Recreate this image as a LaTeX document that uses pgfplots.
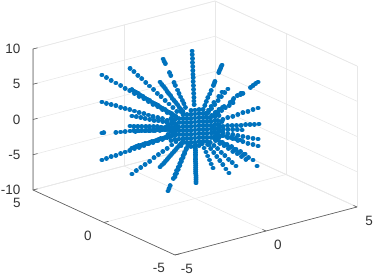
\documentclass[border=0pt]{standalone}
\usepackage{pgfplots}
\pgfplotsset{compat=1.18}
\usepackage{fontspec}
\setmainfont{Liberation Sans}
\definecolor{mblue}{RGB}{0,114,189}
\definecolor{gridc}{RGB}{232,232,232}
\definecolor{axc}{RGB}{90,90,90}
\pgfdeclareplotmark{rdot}{\pgfsetroundcap\pgfsetlinewidth{4.9pt}\pgfpathmoveto{\pgfqpoint{0pt}{0pt}}\pgfpathlineto{\pgfqpoint{0.01pt}{0pt}}\pgfusepathqstroke}
\begin{document}
\begin{tikzpicture}
\useasboundingbox (-195pt,-147pt) rectangle (179pt,128pt);
\begin{axis}[at={(0pt,0pt)},anchor=origin,
 x={(18.2pt,4.8pt)},y={(-14.2pt,6.5pt)},z={(0pt,7.05pt)},
 xmin=-5,xmax=5,ymin=-5,ymax=5,zmin=-10,zmax=10,
 xtick={-5,0,5},ytick={-5,0,5},ztick={-10,-5,0,5,10},
 clip=false,grid=major,
 grid style={gridc,line width=0.6pt},
 axis line style={gridc,line width=0.6pt},
 tick style={draw=none},
 tick label style={font=\fontsize{13.5}{14}\selectfont,text=black!80},
 /pgf/number format/assume math mode=true,
 xticklabel style={anchor=center,xshift=12pt,yshift=-13.5pt},
 yticklabel style={anchor=center,xshift=-16pt,yshift=-13pt},
 zticklabel style={anchor=east,xshift=-9pt,yshift=0pt},
]
% axis lines in front
\addplot3[axc,line width=0.6pt,forget plot] coordinates {(-5,5,10) (-5,5,-10) (-5,-5,-10) (5,-5,-10)};
\addplot3[axc,line width=0.6pt,forget plot] coordinates {(0,-5,-10) (0,-4.75,-10)};
\addplot3[axc,line width=0.6pt,forget plot] coordinates {(5,-5,-10) (5,-4.75,-10)};
\addplot3[axc,line width=0.6pt,forget plot] coordinates {(-5,-5,-10) (-4.75,-5,-10)};
\addplot3[axc,line width=0.6pt,forget plot] coordinates {(-5,0,-10) (-4.75,0,-10)};
\addplot3[axc,line width=0.6pt,forget plot] coordinates {(-5,5,-10) (-4.75,5,-10)};
\addplot3[axc,line width=0.6pt,forget plot] coordinates {(-5,5,-5) (-4.75,5,-5)};
\addplot3[axc,line width=0.6pt,forget plot] coordinates {(-5,5,0) (-4.75,5,0)};
\addplot3[axc,line width=0.6pt,forget plot] coordinates {(-5,5,5) (-4.75,5,5)};
\addplot3[axc,line width=0.6pt,forget plot] coordinates {(-5,5,10) (-4.75,5,10)};
\addplot3[only marks,mark=rdot,color=mblue] coordinates {
(-3.68,1.84,8.33)(-3.50,1.75,7.91)(-3.31,1.66,7.50)(-3.13,1.56,7.08)(-2.94,1.47,6.66)(-2.76,1.38,6.25)(-2.58,1.29,5.83)(-2.39,1.20,5.41)(-2.21,1.10,5.00)(-2.02,1.01,4.58)(-1.84,.92,4.17)(-1.66,.83,3.75)(-1.47,.74,3.33)(-1.29,.64,2.92)(-1.10,.55,2.50)(-.92,.46,2.08)
(-3.68,1.84,4.50)(-3.50,1.75,4.28)(-3.31,1.66,4.05)(-3.13,1.56,3.83)(-2.94,1.47,3.60)(-2.76,1.38,3.38)(-2.58,1.29,3.15)(-2.39,1.20,2.93)(-2.21,1.10,2.70)(-2.02,1.01,2.48)(-1.84,.92,2.25)(-1.66,.83,2.03)(-1.47,.74,1.80)(-1.29,.64,1.58)(-1.10,.55,1.35)(-.92,.46,1.13)
(-3.68,1.84,.10)(-3.61,1.80,.10)(-3.13,1.56,.09)(-2.94,1.47,.08)(-2.76,1.38,.08)(-2.36,1.18,.06)(-2.21,1.10,.06)(-1.84,.92,.05)(-1.66,.83,.05)(-1.47,.74,.04)(-1.29,.64,.04)(-1.10,.55,.03)
(-3.68,1.84,-3.73)(-3.50,1.75,-3.54)(-3.31,1.66,-3.36)(-3.13,1.56,-3.17)(-2.94,1.47,-2.98)(-2.76,1.38,-2.80)(-2.58,1.29,-2.61)(-2.39,1.20,-2.42)(-2.21,1.10,-2.24)(-2.02,1.01,-2.05)(-1.84,.92,-1.87)(-1.66,.83,-1.68)(-1.47,.74,-1.49)(-1.29,.64,-1.31)(-1.10,.55,-1.12)(-.92,.46,-.93)
(-2.57,1.28,9.07)(-2.42,1.20,8.53)(-2.26,1.13,7.98)(-2.11,1.05,7.44)(-1.95,.97,6.89)(-1.80,.90,6.35)(-1.64,.82,5.80)(-1.49,.74,5.26)(-1.34,.67,4.72)(-1.18,.59,4.17)(-1.03,.51,3.63)(-.87,.44,3.08)(-.72,.36,2.54)
(-2.49,1.25,2.25)(-2.32,1.16,2.09)(-2.14,1.08,1.94)(-1.97,.99,1.78)(-1.79,.90,1.62)(-1.62,.81,1.46)(-1.44,.73,1.31)(-1.27,.64,1.15)(-1.10,.55,.99)(-.92,.46,.83)(-.75,.38,.68)
(-2.49,1.25,-5.98)(-2.32,1.16,-5.56)(-2.14,1.08,-5.14)(-1.97,.99,-4.72)(-1.79,.90,-4.31)(-1.62,.81,-3.89)(-1.44,.73,-3.47)(-1.27,.64,-3.05)(-1.10,.55,-2.63)(-.92,.46,-2.21)(-.75,.38,-1.79)
(-2.49,1.25,5.94)(-2.32,1.16,5.52)(-2.14,1.08,5.11)(-1.97,.99,4.69)(-1.79,.90,4.28)(-1.62,.81,3.86)(-1.44,.73,3.45)(-1.27,.64,3.03)(-1.10,.55,2.61)(-.92,.46,2.20)(-.75,.38,1.78)
(-2.40,1.20,5.73)(-2.23,1.12,5.32)(-2.05,1.03,4.90)(-1.88,.94,4.48)(-1.71,.85,4.07)(-1.53,.77,3.65)(-1.36,.68,3.24)(-1.18,.59,2.82)(-1.01,.50,2.41)(-.83,.42,1.99)
(-2.49,1.25,-2.29)(-2.32,1.16,-2.13)(-2.14,1.08,-1.97)(-1.97,.99,-1.81)(-1.79,.90,-1.65)(-1.62,.81,-1.49)(-1.44,.73,-1.33)(-1.27,.64,-1.17)(-1.10,.55,-1.01)(-.92,.46,-.85)(-.75,.38,-.69)
(-2.40,1.20,-2.21)(-2.23,1.12,-2.05)(-2.05,1.03,-1.89)(-1.88,.94,-1.73)(-1.71,.85,-1.57)(-1.53,.77,-1.41)(-1.36,.68,-1.25)(-1.18,.59,-1.09)(-1.01,.50,-.93)(-.83,.42,-.77)
(-2.57,1.28,.85)(-2.42,1.20,.80)(-2.26,1.13,.75)(-2.11,1.05,.70)(-1.95,.97,.65)(-1.80,.90,.60)(-1.64,.82,.54)(-1.49,.74,.49)(-1.34,.67,.44)(-1.18,.59,.39)(-1.03,.51,.34)(-.87,.44,.29)(-.72,.36,.24)
(-2.57,1.28,.14)(-2.42,1.20,.13)(-2.26,1.13,.12)(-2.11,1.05,.11)(-1.95,.97,.11)(-1.80,.90,.10)(-1.64,.82,.09)(-1.49,.74,.08)(-1.34,.67,.07)(-1.18,.59,.06)(-1.03,.51,.06)(-.87,.44,.05)(-.72,.36,.04)
(-1.98,.99,.01)(-1.78,.89,.01)(-1.58,.79,.01)(-1.39,.69,.01)(-1.19,.59,.01)(-.99,.50,.01)(-.79,.40,.01)
(-.26,1.91,8.20)(-.25,1.85,7.95)(-.24,1.78,7.63)(-.21,1.53,6.56)(-.20,1.45,6.23)(-.17,1.26,5.41)(-.16,1.18,5.08)(-.14,1.05,4.51)(-.13,.96,4.10)(-.12,.86,3.69)(-.10,.76,3.28)(-.09,.67,2.87)(-.08,.57,2.46)
(-1.38,.69,6.83)(-1.31,.66,6.49)(-1.24,.62,6.15)(-1.17,.59,5.81)(-1.10,.55,5.46)(-1.04,.52,5.12)(-.97,.48,4.78)(-.90,.45,4.44)(-.83,.41,4.10)(-.76,.38,3.76)(-.69,.35,3.42)(-.62,.31,3.07)(-.55,.28,2.73)(-.48,.24,2.39)
(-1.38,.69,-5.23)(-1.31,.66,-4.97)(-1.24,.62,-4.71)(-1.17,.59,-4.45)(-1.10,.55,-4.18)(-1.04,.52,-3.92)(-.97,.48,-3.66)(-.90,.45,-3.40)(-.83,.41,-3.14)(-.76,.38,-2.88)(-.69,.35,-2.62)(-.62,.31,-2.35)(-.55,.28,-2.09)(-.48,.24,-1.83)
(-1.07,.53,-8.70)(-1.03,.51,-8.35)(-.98,.49,-8.00)(-.86,.42,-6.96)(-.79,.39,-6.44)(-.73,.36,-5.92)(-.66,.33,-5.39)(-.60,.30,-4.87)(-.54,.27,-4.35)(-.47,.23,-3.83)(-.41,.20,-3.31)(-.34,.17,-2.78)
(-.79,.40,-6.78)(-.73,.37,-6.24)(-.66,.34,-5.70)(-.60,.30,-5.15)(-.54,.27,-4.61)(-.47,.24,-4.07)(-.41,.21,-3.53)(-.35,.18,-2.98)(-.28,.14,-2.44)
(.04,-.02,-7.81)(.04,-.02,-7.26)(.04,-.02,-6.72)(.03,-.01,-6.17)(.03,-.01,-5.62)(.03,-.01,-5.08)(.02,-.01,-4.53)(.02,-.01,-3.98)(.02,-.01,-3.44)(.01,-.01,-2.89)(.01,-.01,-2.34)
(.04,-.02,-7.54)(.04,-.02,-6.99)(.03,-.01,-6.44)(.03,-.01,-5.90)(.03,-.01,-5.35)(.02,-.01,-4.80)(.02,-.01,-4.26)(.02,-.01,-3.71)(.02,-.01,-3.16)(.01,-.01,-2.62)
(.84,1.28,9.17)(.80,1.22,8.71)(.76,1.15,8.25)(.71,1.09,7.79)(.67,1.02,7.34)(.63,.96,6.88)(.59,.90,6.42)(.55,.83,5.96)(.50,.77,5.50)(.46,.70,5.04)(.42,.64,4.59)(.38,.58,4.13)(.34,.51,3.67)(.29,.45,3.21)(.25,.38,2.75)
(.71,-.36,-5.83)(.64,-.32,-5.25)(.57,-.29,-4.66)(.50,-.25,-4.08)(.43,-.22,-3.50)(.36,-.18,-2.92)(.28,-.14,-2.33)
(1.34,-.67,-6.68)(1.22,-.61,-6.08)(1.10,-.55,-5.48)(.98,-.49,-4.88)(.86,-.43,-4.28)(.74,-.37,-3.67)(.62,-.31,-3.07)(.50,-.25,-2.47)
(1.62,-.81,-5.75)(1.47,-.74,-5.23)(1.33,-.66,-4.72)(1.18,-.59,-4.20)(1.04,-.52,-3.68)(.89,-.45,-3.16)(.75,-.37,-2.65)(.60,-.30,-2.13)
(1.98,-.99,-4.12)(1.80,-.90,-3.75)(1.62,-.81,-3.38)(1.45,-.72,-3.01)(1.27,-.63,-2.64)(1.09,-.54,-2.27)(.91,-.46,-1.90)(.73,-.37,-1.52)
(2.29,-1.15,-5.04)(2.11,-1.06,-4.64)(1.92,-.97,-4.23)(1.74,-.87,-3.83)(1.56,-.78,-3.43)(1.37,-.69,-3.02)(1.19,-.60,-2.62)(1.01,-.51,-2.22)(.82,-.41,-1.81)
(2.45,-1.23,-5.93)(2.01,-1.01,-4.86)(1.84,-.92,-4.45)(1.67,-.84,-4.03)(1.49,-.75,-3.62)(1.32,-.66,-3.20)(1.15,-.58,-2.79)(.98,-.49,-2.37)(.81,-.41,-1.96)
(2.49,-1.25,-3.10)(2.29,-1.15,-2.85)(2.09,-1.05,-2.60)(1.89,-.95,-2.36)(1.69,-.85,-2.11)(1.49,-.75,-1.86)(1.29,-.65,-1.61)(1.10,-.55,-1.36)(.90,-.45,-1.12)
(2.49,-1.25,-2.11)(2.29,-1.15,-1.94)(2.09,-1.05,-1.77)(1.89,-.95,-1.60)(1.69,-.85,-1.43)(1.49,-.75,-1.27)(1.29,-.65,-1.10)(1.10,-.55,-.93)(.90,-.45,-.76)
(2.49,-1.25,2.29)(2.29,-1.15,2.11)(2.09,-1.05,1.92)(1.89,-.95,1.74)(1.69,-.85,1.56)(1.49,-.75,1.37)(1.29,-.65,1.19)(1.10,-.55,1.01)(.90,-.45,.82)
(2.49,-1.25,5.98)(2.39,-1.20,5.74)(2.29,-1.15,5.50)(2.19,-1.10,5.26)(1.89,-.95,4.54)(1.79,-.90,4.31)(1.49,-.75,3.59)(1.39,-.70,3.35)(1.15,-.58,2.75)(1.00,-.50,2.39)(.85,-.43,2.03)
(1.78,-.89,-2.09)(1.60,-.80,-1.88)(1.42,-.71,-1.67)(1.25,-.62,-1.46)(1.07,-.53,-1.25)(.89,-.45,-1.05)(.71,-.36,-.84)
(2.53,-1.26,.01)(2.35,-1.17,.01)(2.18,-1.08,.01)(2.00,-1.00,.01)(1.82,-.91,.01)(1.64,-.82,.01)(1.47,-.73,.01)(1.29,-.64,.01)(1.11,-.55,.01)(.94,-.47,.01)
(1.86,-.93,-.69)(1.67,-.84,-.62)(1.49,-.74,-.55)(1.30,-.65,-.48)(1.12,-.56,-.41)(.93,-.47,-.35)(.74,-.37,-.28)
(1.50,-.75,3.22)(1.35,-.68,2.90)(1.20,-.60,2.58)(1.05,-.53,2.25)(.90,-.45,1.93)(.75,-.38,1.61)(.60,-.30,1.29)
(1.82,-.91,4.56)(1.67,-.84,4.20)(1.53,-.76,3.83)(1.09,-.55,2.74)(.95,-.47,2.37)(.80,-.40,2.01)(.66,-.33,1.64)
(1.30,-.65,5.25)(1.17,-.59,4.73)(1.04,-.52,4.20)(.91,-.46,3.68)(.78,-.39,3.15)(.65,-.33,2.63)(.52,-.26,2.10)
(1.07,-.53,4.87)(.94,-.47,4.29)(.75,-.37,3.41)(.64,-.32,2.92)(.54,-.27,2.44)(.43,-.21,1.95)
(1.07,-.53,8.70)(1.04,-.51,8.44)(1.01,-.50,8.18)(.97,-.48,7.92)(.94,-.47,7.66)(.79,-.39,6.44)(.76,-.38,6.18)(.73,-.36,5.92)(.64,-.32,5.22)(.58,-.29,4.70)(.51,-.25,4.18)(.45,-.22,3.65)(.39,-.19,3.13)(.32,-.16,2.61)
(0,0,.28)(.16,-.08,.28)(-.16,.08,.28)(.32,-.16,.28)(-.32,.16,.28)(.47,-.24,.28)(-.47,.24,.28)(.63,-.32,.28)(-.63,.32,.28)(.79,-.40,.28)(-.79,.40,.28)(.95,-.48,.28)(-.95,.48,.28)
(0,0,-.28)(.16,-.08,-.28)(-.16,.08,-.28)(.32,-.16,-.28)(-.32,.16,-.28)(.47,-.24,-.28)(-.47,.24,-.28)(.63,-.32,-.28)(-.63,.32,-.28)(.79,-.40,-.28)(-.79,.40,-.28)(.95,-.48,-.28)(-.95,.48,-.28)
(0,0,.85)(.16,-.08,.85)(-.16,.08,.85)(.32,-.16,.85)(-.32,.16,.85)(.47,-.24,.85)(-.47,.24,.85)(.63,-.32,.85)(-.63,.32,.85)(.79,-.40,.85)(-.79,.40,.85)
(0,0,-.85)(.16,-.08,-.85)(-.16,.08,-.85)(.32,-.16,-.85)(-.32,.16,-.85)(.47,-.24,-.85)(-.47,.24,-.85)(.63,-.32,-.85)(-.63,.32,-.85)(.79,-.40,-.85)(-.79,.40,-.85)
(0,0,1.42)(.16,-.08,1.42)(-.16,.08,1.42)(.32,-.16,1.42)(-.32,.16,1.42)(.47,-.24,1.42)(-.47,.24,1.42)(.63,-.32,1.42)(-.63,.32,1.42)(.79,-.40,1.42)(-.79,.40,1.42)
(0,0,-1.42)(.16,-.08,-1.42)(-.16,.08,-1.42)(.32,-.16,-1.42)(-.32,.16,-1.42)(.47,-.24,-1.42)(-.47,.24,-1.42)(.63,-.32,-1.42)(-.63,.32,-1.42)(.79,-.40,-1.42)(-.79,.40,-1.42)
(0,0,1.99)(.16,-.08,1.99)(-.16,.08,1.99)(.32,-.16,1.99)(-.32,.16,1.99)(.47,-.24,1.99)(-.47,.24,1.99)
(0,0,-1.99)(.16,-.08,-1.99)(-.16,.08,-1.99)(.32,-.16,-1.99)(-.32,.16,-1.99)(.47,-.24,-1.99)(-.47,.24,-1.99)
(0,0,2.55)(0,0,-2.55)(.16,-.08,2.55)(-.16,.08,2.55)(.16,-.08,-2.55)(-.16,.08,-2.55)
(1.07,-.53,.71)(.95,-.47,1.56)(.55,-.28,2.41)(-.55,.28,2.41)(-.95,.47,1.56)(-1.07,.53,.71)(-1.07,.53,-.71)(-.95,.47,-1.56)(-.55,.28,-2.41)(.55,-.28,-2.41)(.95,-.47,-1.56)(1.07,-.53,-.71)
};
\end{axis}
\end{tikzpicture}
\end{document}
